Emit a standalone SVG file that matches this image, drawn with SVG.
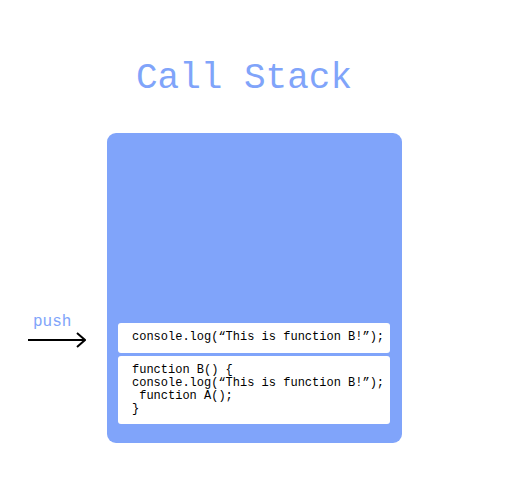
<svg xmlns="http://www.w3.org/2000/svg" width="509" height="487" viewBox="0 0 509 487">
<style>
.title{font-family:"Liberation Mono","Courier New",monospace;font-size:36px;fill:#80a4fa}
.lbl{font-family:"Liberation Mono","Courier New",monospace;font-size:16px;fill:#80a4fa}
.code{font-family:"Liberation Mono","Courier New",monospace;font-size:12px;fill:#000;white-space:pre}
.frame{fill:#80a4fa}
.card{fill:#fff}
</style>
<defs>
<marker id="arr" viewBox="0 0 10 16" refX="9" refY="8" markerWidth="10" markerHeight="16" markerUnits="userSpaceOnUse" orient="auto">
<path d="M1,1 L9,8 L1,15" fill="none" stroke="#000" stroke-width="2"/>
</marker>
</defs>
<rect width="509" height="487" fill="#fff"/>
<text class="title" x="136" y="88">Call Stack</text>
<g id="stack">
<rect class="frame" x="107" y="133" width="295" height="310" rx="9"/>
</g>
<g id="frame-console">
<rect class="card" x="118" y="323" width="272" height="30" rx="3"/>
<text class="code" x="132" y="340">console.log(“This is function B!”);</text>
</g>
<g id="frame-functionB">
<rect class="card" x="118" y="356" width="272" height="68" rx="3"/>
<text class="code" xml:space="preserve"><tspan x="132" y="373">function B() {</tspan><tspan x="132" y="386">console.log(“This is function B!”);</tspan><tspan x="132" y="399"> function A();</tspan><tspan x="132" y="412">}</tspan></text>
</g>
<g id="connectors">
<line x1="28" y1="340" x2="85" y2="340" stroke="#000" stroke-width="2" marker-end="url(#arr)"/>
<text class="lbl" x="33" y="326">push</text>
</g>
</svg>
